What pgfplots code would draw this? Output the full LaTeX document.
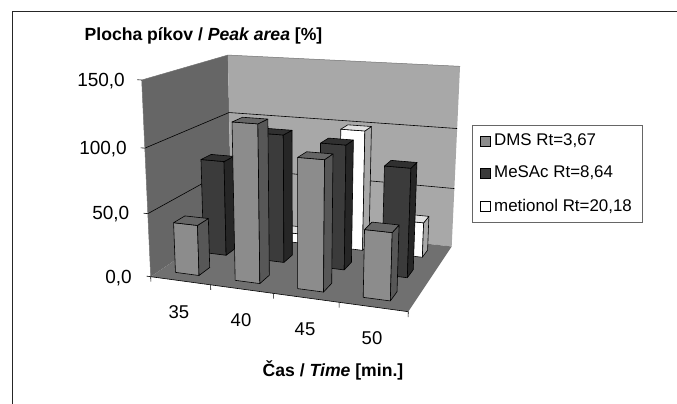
\documentclass[border=0pt]{standalone}
\usepackage{pgfplots}
\usepackage{pgfplotstable}
\usepackage{fontspec}
\setmainfont{Liberation Sans}
\pgfplotsset{compat=1.18}

% Peak areas per sampling time: one column per compound
\pgfplotstableread{
time dms  mesac met
35   40   78    6
40   121  103   8
45   99   99    100
50   51   85.5  29
}\peaks

\definecolor{dmsF}{gray}{0.55}
\definecolor{dmsS}{gray}{0.34}
\definecolor{dmsT}{gray}{0.40}
\definecolor{mesF}{gray}{0.23}
\definecolor{mesS}{gray}{0.15}
\definecolor{mesT}{gray}{0.19}
\definecolor{metF}{gray}{1.00}
\definecolor{metS}{gray}{0.66}
\definecolor{metT}{gray}{0.88}
\definecolor{wallL}{gray}{0.40}
\definecolor{wallB}{gray}{0.66}
\definecolor{floorC}{gray}{0.44}

% Perspective box: u = categories (0..4), v = series (0..3), w = peak area (0..150)
\pgfplotsset{
  box projection/.style={
    declare function={
      hw(\u,\v,\w)=1-0.0227*\u+0.06223*\v-0.00038*\w;
      px(\u,\v,\w)=(150.7+55.125*\u+41.263*\v-0.1138*\w)/hw(\u,\v,\w);
      py(\u,\v,\w)=(276.7+1.675*\u-4.417*\v-1.3417*\w)/hw(\u,\v,\w);
    }
  },
  table/world/.style={row sep=\\, header=false,
    x expr={px(\thisrowno{0},\thisrowno{1},\thisrowno{2})},
    y expr={py(\thisrowno{0},\thisrowno{1},\thisrowno{2})}},
  face/.style={forget plot, line width=0.6pt, draw=black, line join=round},
  rule/.style={forget plot, line width=0.6pt, draw=black}
}

% One face of a bar; corner flags are 0/1 in u, v and height
\newcommand\barface[5]{%
  \addplot[face, fill=#5] table[row sep=\\, header=false,
    x expr={px(#1+0.265+0.40*\thisrowno{0},#2+0.30+0.38*\thisrowno{1},#3*\thisrowno{2})},
    y expr={py(#1+0.265+0.40*\thisrowno{0},#2+0.30+0.38*\thisrowno{1},#3*\thisrowno{2})}]
    {#4};
}
% One bar: category row, series index, column name, front/side/top colours
\newcommand\drawbar[6]{%
  \pgfplotstablegetelem{#1}{#3}\of\peaks
  \edef\barvalue{\pgfplotsretval}%
  \barface{#1}{#2}{\barvalue}{0 0 0\\ 1 0 0\\ 1 0 1\\ 0 0 1\\ 0 0 0\\}{#4}
  \barface{#1}{#2}{\barvalue}{1 0 0\\ 1 1 0\\ 1 1 1\\ 1 0 1\\ 1 0 0\\}{#5}
  \barface{#1}{#2}{\barvalue}{0 0 1\\ 1 0 1\\ 1 1 1\\ 0 1 1\\ 0 0 1\\}{#6}
}
\newcommand\drawseries[5]{%
  \drawbar{0}{#1}{#2}{#3}{#4}{#5}
  \drawbar{1}{#1}{#2}{#3}{#4}{#5}
  \drawbar{2}{#1}{#2}{#3}{#4}{#5}
  \drawbar{3}{#1}{#2}{#3}{#4}{#5}
}
% Legend key: a small square and its label
\newcommand\legendrow[3]{%
  \addplot[forget plot, fill=#2, draw=black, line width=0.6pt]
    coordinates {(480,#1-5) (490,#1-5) (490,#1+5) (480,#1+5) (480,#1-5)};
  \node[anchor=west, inner sep=0pt, font=\fontsize{16.9}{20}\selectfont] at (axis cs:494,#1) {#3};
}

\begin{document}
\begin{tikzpicture}
\path[use as bounding box] (0,0) rectangle (677pt,404pt);
\begin{axis}[
  box projection,
  at={(0,0)}, anchor=south west,
  scale only axis, width=677pt, height=404pt,
  xmin=0, xmax=677, ymin=0, ymax=404, y dir=reverse,
  hide axis, clip=false,
]
% outer frame
\addplot[forget plot, line width=1pt, draw=black!85] coordinates {(12,404) (12,12) (677,12)};

% walls and floor
\addplot[forget plot, fill=wallL, draw=none] table[world] {0 0 0\\ 0 3 0\\ 0 3 150\\ 0 0 150\\ 0 0 0\\};
\addplot[forget plot, fill=wallB, draw=none] table[world] {0 3 0\\ 4 3 0\\ 4 3 150\\ 0 3 150\\ 0 3 0\\};
\addplot[forget plot, fill=floorC, draw=none] table[world] {0 0 0\\ 4 0 0\\ 4 3 0\\ 0 3 0\\ 0 0 0\\};

% gridlines along both walls
\addplot[rule] table[world] {0 0 50\\ 0 3 50\\ 4 3 50\\};
\addplot[rule] table[world] {0 0 100\\ 0 3 100\\ 4 3 100\\};
\addplot[forget plot, line width=0.5pt, draw=black!55] table[world] {0 0 150\\ 0 3 150\\ 4 3 150\\};
\addplot[rule] table[world] {0 0 0\\ 4 0 0\\};
\addplot[forget plot, line width=0.5pt, draw=black!55] table[world] {0 0 0\\ 0 0 150\\};

% bars, back row first
\drawseries{2}{met}{metF}{metS}{metT}
\drawseries{1}{mesac}{mesF}{mesS}{mesT}
\drawseries{0}{dms}{dmsF}{dmsS}{dmsT}

% tick marks
\addplot[rule] table[world] {0 0 0\\ -0.07 0 0\\};
\addplot[rule] table[world] {0 0 50\\ -0.07 0 50\\};
\addplot[rule] table[world] {0 0 100\\ -0.07 0 100\\};
\addplot[rule] table[world] {0 0 150\\ -0.07 0 150\\};
\addplot[rule] table[world] {0 0 0\\ 0 0 -4\\};
\addplot[rule] table[world] {1 0 0\\ 1 0 -4\\};
\addplot[rule] table[world] {2 0 0\\ 2 0 -4\\};
\addplot[rule] table[world] {3 0 0\\ 3 0 -4\\};
\addplot[rule] table[world] {4 0 0\\ 4 0 -4\\};

% legend
\addplot[forget plot, fill=white, draw=black!60, line width=0.7pt]
  coordinates {(472,125) (642.7,125) (642.7,222) (472,222) (472,125)};
\legendrow{141}{dmsF}{DMS Rt=3,67}
\legendrow{173}{mesF}{MeSAc Rt=8,64}
\legendrow{206}{metF}{metionol Rt=20,18}

% axis numbers and titles
\node[anchor=east, inner sep=0pt, font=\fontsize{19}{22}\selectfont] at (axis cs:125,81) {150,0};
\node[anchor=east, inner sep=0pt, font=\fontsize{19}{22}\selectfont] at (axis cs:127,149) {100,0};
\node[anchor=east, inner sep=0pt, font=\fontsize{19}{22}\selectfont] at (axis cs:129.5,214) {50,0};
\node[anchor=east, inner sep=0pt, font=\fontsize{19}{22}\selectfont] at (axis cs:132,278) {0,0};
\node[font=\fontsize{18.5}{22}\selectfont] at (axis cs:179,312) {35};
\node[font=\fontsize{18.5}{22}\selectfont] at (axis cs:241,320) {40};
\node[font=\fontsize{18.5}{22}\selectfont] at (axis cs:305,329) {45};
\node[font=\fontsize{18.5}{22}\selectfont] at (axis cs:372,338) {50};
\node[font=\fontsize{17.6}{20}\selectfont\bfseries] at (axis cs:203.5,36) {Plocha píkov / \textit{Peak area} [\%]};
\node[font=\fontsize{17.6}{20}\selectfont\bfseries] at (axis cs:333,370) {Čas / \textit{Time} [min.]};
\end{axis}
\end{tikzpicture}
\end{document}
